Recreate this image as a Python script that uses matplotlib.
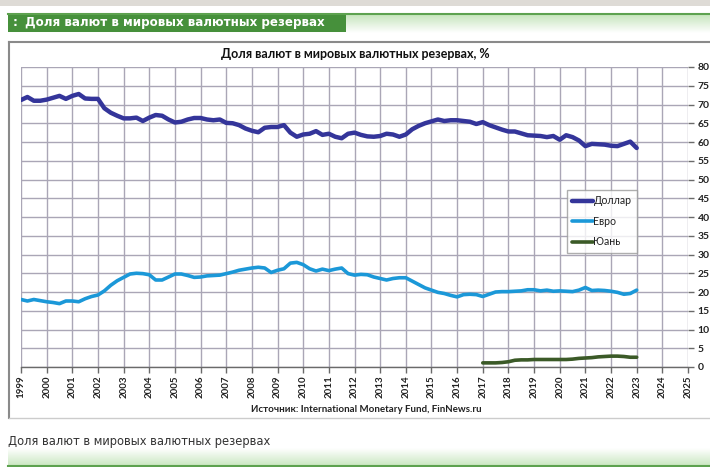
import numpy as np
import matplotlib
matplotlib.use("Agg")
import matplotlib.pyplot as plt
from matplotlib.patches import Rectangle
from matplotlib.lines import Line2D

# ---------------- data ----------------
quarters = [1999 + 0.25 * i for i in range(97)]  # 1999.0 .. 2023.0

dollar = [71.2, 72.0, 71.0, 71.0,
          71.3, 71.8, 72.3, 71.5,
          72.3, 72.8, 71.6, 71.5,
          71.5, 69.0, 67.8, 67.0,
          66.3, 66.3, 66.5, 65.6,
          66.5, 67.2, 67.0, 66.0,
          65.2, 65.4, 66.0, 66.4,
          66.4, 66.0, 65.8, 66.0,
          65.1, 65.0, 64.5, 63.6,
          63.0, 62.6, 63.8, 64.0,
          64.0, 64.5, 62.5, 61.4,
          62.0, 62.2, 62.9, 61.9,
          62.2, 61.4, 61.0, 62.2,
          62.5, 61.9, 61.5, 61.4,
          61.6, 62.2, 62.0, 61.4,
          62.0, 63.4, 64.3, 65.0,
          65.5, 66.0, 65.6, 65.8,
          65.8, 65.6, 65.4, 64.8,
          65.3, 64.5, 63.9, 63.3,
          62.8, 62.8, 62.3, 61.8,
          61.7, 61.6, 61.3, 61.6,
          60.6, 61.8, 61.3, 60.4,
          58.9, 59.5, 59.4, 59.3,
          59.0, 58.9, 59.5, 60.1,
          58.4]

euro = [18.0, 17.6, 18.0, 17.7,
        17.4, 17.2, 16.9, 17.6,
        17.6, 17.4, 18.2, 18.8,
        19.2, 20.3, 21.8, 23.0,
        23.9, 24.8, 25.0, 24.9,
        24.6, 23.2, 23.2, 24.0,
        24.8, 24.8, 24.4, 23.9,
        24.0, 24.3, 24.4, 24.5,
        24.9, 25.3, 25.8, 26.1,
        26.4, 26.6, 26.4, 25.2,
        25.8, 26.2, 27.7, 27.9,
        27.3, 26.2, 25.6, 26.1,
        25.7, 26.1, 26.4, 24.9,
        24.5, 24.7, 24.6, 24.0,
        23.6, 23.2, 23.6, 23.8,
        23.8, 22.9, 22.0, 21.1,
        20.5, 19.9, 19.6, 19.1,
        18.7, 19.3, 19.4, 19.3,
        18.8, 19.4, 20.0, 20.1,
        20.1, 20.2, 20.3, 20.6,
        20.6, 20.3, 20.5, 20.2,
        20.3, 20.2, 20.1, 20.5,
        21.2, 20.4, 20.5, 20.4,
        20.2, 19.9, 19.4, 19.6,
        20.5]

yuan_quarters = quarters[72:]
yuan = [1.1, 1.1, 1.1, 1.2,
        1.4, 1.8, 1.9, 1.9,
        2.0, 2.0, 2.0, 2.0,
        2.0, 2.0, 2.1, 2.3,
        2.4, 2.5, 2.7, 2.8,
        2.9, 2.9, 2.8, 2.6,
        2.6]

year_ticks = list(range(1999, 2026))
y_ticks = list(range(0, 81, 5))
series_names = ["Доллар", "Евро", "Юань"]

# ---------------- figure ----------------
W, H = 710, 467
fig = plt.figure(figsize=(W / 100, H / 100), dpi=100)
fig.patch.set_facecolor("white")

def fx(px):
    return px / W

def fy(py):
    return 1 - py / H

# top gray band
fig.add_artist(Rectangle((0, fy(6)), 1, 6 / H, transform=fig.transFigure,
                         facecolor="#dedbd6", edgecolor="none"))

# header gradient (right part)
grad_ax = fig.add_axes([fx(8), fy(33), fx(702), 20 / H])
g = np.linspace(0, 1, 50)[:, None]
top_c = np.array([0.76, 0.89, 0.72])
bot_c = np.array([1.0, 1.0, 1.0])
img = top_c[None, None, :] * (1 - g[:, :, None]) + bot_c[None, None, :] * g[:, :, None]
grad_ax.imshow(img, aspect="auto", extent=[0, 1, 0, 1], origin="upper")
grad_ax.axis("off")
fig.add_artist(Line2D([fx(8), 1], [fy(13.5), fy(13.5)], transform=fig.transFigure,
                      color="#5da24f", lw=1.5))
# header green box
fig.add_artist(Rectangle((fx(8), fy(32)), fx(338), 19 / H, transform=fig.transFigure,
                         facecolor="#46903b", edgecolor="none"))
fig.text(fx(13), fy(22.5), ":", color="white", fontsize=8.6, fontweight="bold",
         va="center", ha="left", family="DejaVu Sans")
fig.text(fx(25), fy(22.5), "Доля валют в мировых валютных резервах", color="white",
         fontsize=8.6, fontweight="bold", va="center", ha="left", family="DejaVu Sans")

# chart frame
fig.add_artist(Line2D([fx(9), 1], [fy(42), fy(42)], transform=fig.transFigure,
                      color="#8a8a8a", lw=1.5))
fig.add_artist(Line2D([fx(9), fx(9)], [fy(42), fy(418)], transform=fig.transFigure,
                      color="#8a8a8a", lw=1.5))
fig.add_artist(Line2D([fx(9), 1], [fy(418), fy(418)], transform=fig.transFigure,
                      color="#cccccc", lw=1.0))

# main axes
ax = fig.add_axes([fx(21), fy(367), fx(688 - 21), (367 - 67) / H])
ax.set_facecolor("white")
ax.plot(quarters, dollar, color="#34359a", lw=3.2, solid_capstyle="round",
        solid_joinstyle="round", label=series_names[0], zorder=3)
ax.plot(quarters, euro, color="#1b98d8", lw=2.6, solid_capstyle="round",
        solid_joinstyle="round", label=series_names[1], zorder=3)
ax.plot(yuan_quarters, yuan, color="#3b5a27", lw=2.6, solid_capstyle="round",
        solid_joinstyle="round", label=series_names[2], zorder=3)

ax.set_xlim(1999, 2025)
ax.set_ylim(0, 80)
ax.set_xticks(year_ticks)
ax.set_xticklabels([str(y) for y in year_ticks], rotation=90, fontsize=7,
                   fontweight="bold", family="Lato", color="#222222")
ax.set_yticks(y_ticks)
ax.yaxis.tick_right()
ax.set_yticklabels([str(v) for v in y_ticks], fontsize=7.5, fontweight="bold",
                   family="Lato", color="#222222")
ax.grid(True, color="#aaa6b6", lw=1.0, zorder=0)
ax.set_axisbelow(True)
for side in ["left", "top"]:
    ax.spines[side].set_visible(False)
ax.spines["right"].set_visible(False)
ax.spines["bottom"].set_color("#6a6a6a")
ax.spines["bottom"].set_linewidth(1.0)
ax.tick_params(axis="x", direction="out", length=4, width=1, color="#6a6a6a", pad=2)
ax.tick_params(axis="y", direction="out", length=4, width=1, color="#6a6a6a", pad=3)

leg = ax.legend(loc="upper left", bbox_to_anchor=((567 - 21) / 667, 1 - (190 - 67) / 300),
                borderaxespad=0, frameon=True, fancybox=False, edgecolor="#9a9a9a",
                handlelength=2.0, handletextpad=0.0, labelspacing=0.9,
                borderpad=0.5, prop={"family": "Lato", "size": 7.6})
leg.get_frame().set_linewidth(1.0)
for t in leg.get_texts():
    t.set_color("#222222")

# titles / source
fig.text(fx(355), fy(54), "Доля валют в мировых валютных резервах, %", ha="center",
         va="center", fontsize=9, fontweight="bold", family="Lato", color="#111111")
fig.text(fx(366), fy(410), "Источник: International Monetary Fund, FinNews.ru",
         ha="center", va="center", fontsize=7, fontweight="bold", family="Lato",
         color="#222222")

# bottom caption and gradient bar
fig.text(fx(8), fy(442), "Доля валют в мировых валютных резервах", ha="left",
         va="center", fontsize=8.3, family="DejaVu Sans", color="#333333")
bot_ax = fig.add_axes([fx(8), 0, fx(702), 19 / H])
g2 = np.linspace(0, 1, 50)[:, None]
c_top = np.array([1.0, 1.0, 1.0])
c_bot = np.array([0.78, 0.90, 0.74])
img2 = c_top[None, None, :] * (1 - g2[:, :, None]) + c_bot[None, None, :] * g2[:, :, None]
bot_ax.imshow(img2, aspect="auto", extent=[0, 1, 0, 1], origin="upper")
bot_ax.axis("off")
fig.add_artist(Line2D([fx(8), 1], [fy(466), fy(466)], transform=fig.transFigure,
                      color="#5da24f", lw=1.5))

fig.savefig("out.png", dpi=100)
